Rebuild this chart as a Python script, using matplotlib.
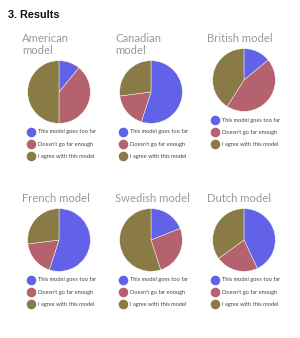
import matplotlib
matplotlib.use("Agg")
import matplotlib.pyplot as plt
from matplotlib.lines import Line2D

models = ["American\nmodel", "Canadian\nmodel", "British model",
          "French model", "Swedish model", "Dutch model"]
categories = ["This model goes too far", "Doesn't go far enough", "I agree with this model"]
too_far = [11, 55, 14, 55, 19, 43]
not_enough = [39, 18, 45, 18, 26, 22]
agree = [50, 27, 41, 27, 55, 35]

colors = ["#6262E8", "#B5626F", "#8A7A46"]

W, H = 300, 338
fig = plt.figure(figsize=(W / 100, H / 100), dpi=100)
fig.patch.set_facecolor("white")

def fx(x):
    return x / W

def fy(y):
    return 1 - y / H

fig.text(fx(7.5), fy(18.3), "3. Results", fontsize=7.8, fontweight="bold",
         family="Liberation Sans", color="#111111", va="baseline")

# layout (pixel) for each panel: pie center, title first baseline, legend top
pie_centers = [(59, 92), (151, 92), (244, 80), (59, 240), (151, 240), (244, 240)]
title_pos = [(22, 42), (115, 42), (207, 42), (22, 202), (115, 202), (207, 202)]
legend_pos = [(28, 129.5), (120, 129.5), (212.5, 118), (28, 277.5), (120, 277.5), (212.5, 277.5)]
R = 32

handles = [Line2D([], [], marker="o", linestyle="none", markersize=5.9,
                  markerfacecolor=c, markeredgecolor=c) for c in colors]

for i, name in enumerate(models):
    cx, cy = pie_centers[i]
    ax = fig.add_axes([fx(cx - R), fy(cy + R), 2 * R / W, 2 * R / H])
    vals = [too_far[i], not_enough[i], agree[i]]
    ax.pie(vals, colors=colors, startangle=90, counterclock=False,
           wedgeprops=dict(edgecolor="white", linewidth=0.3))
    ax.set_xlim(-1.02, 1.02)
    ax.set_ylim(-1.02, 1.02)
    ax.set_aspect("equal")
    ax.axis("off")

    tx, ty = title_pos[i]
    for k, line in enumerate(name.split("\n")):
        fig.text(fx(tx), fy(ty + 11.7 * k), line, fontsize=8.1, family="Lato",
                 color="#999999", va="baseline", ha="left")

    lx, ly = legend_pos[i]
    fig.legend(handles, categories, loc="upper left",
               bbox_to_anchor=(fx(lx), fy(ly)), frameon=False,
               prop=dict(family="Lato", size=4.1), labelcolor="#444444",
               handlelength=0.9, handletextpad=0.8, labelspacing=1.25,
               borderpad=0, borderaxespad=0)

fig.savefig("out.png", dpi=100, facecolor="white")
